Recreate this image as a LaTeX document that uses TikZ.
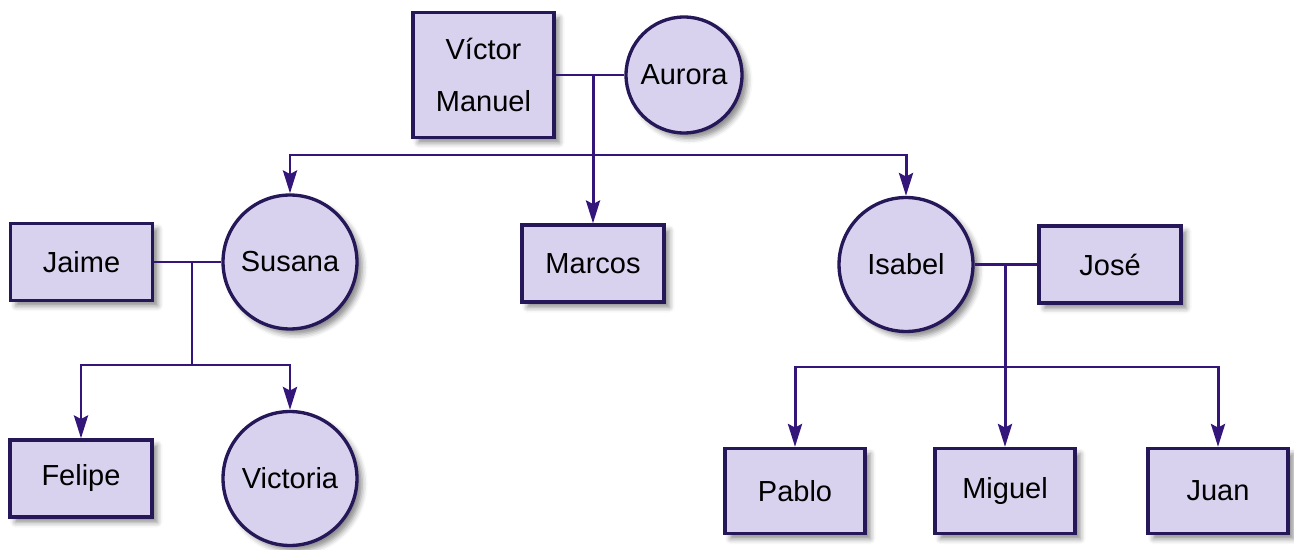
\documentclass[tikz,border=0pt]{standalone}
\usepackage{fontspec}
\setmainfont{Liberation Sans}
\usepackage{tikz}
\usetikzlibrary{arrows.meta,positioning,shadows.blur}

\definecolor{lila}{RGB}{216,210,238}
\definecolor{borde}{RGB}{38,24,88}
\definecolor{linea}{RGB}{52,22,122}

\begin{document}
\begin{tikzpicture}[x=0.02cm,y=-0.02cm,
		persona/.style={draw=borde,line width=1.9pt,fill=lila,minimum width=2.84cm,minimum height=1.54cm,
			font=\fontsize{16.5}{30}\selectfont,align=center,
			blur shadow={shadow xshift=3pt,shadow yshift=-3pt,shadow blur radius=3pt,shadow opacity=45}},
		mujer/.style={persona,circle,minimum size=2.68cm,inner sep=0pt},
		union/.style={draw=linea,line width=1.7pt},
		flecha/.style={union,-{Stealth[length=13pt,width=8pt,inset=2pt]}}]
		\useasboundingbox (0,0) rectangle (1294,550);
		% abuelos
		\node[persona,minimum width=2.82cm,minimum height=2.5cm] (victor) at (483.5,75) {Víctor\\Manuel};
		\node[mujer,minimum size=2.32cm] (aurora) at (684,75) {Aurora};
		% hijos
		\node[persona] (jaime) at (81.5,262) {Jaime};
		\node[mujer] (susana) at (290,262) {Susana};
		\node[persona] (marcos) at (593,263.5) {Marcos};
		\node[mujer] (isabel) at (906,264.5) {Isabel};
		\node[persona] (jose) at (1110,264.5) {José};
		% nietos
		\node[persona] (felipe) at (81,478.5) {Felipe};
		\node[mujer] (victoria) at (290,478.5) {Victoria};
		\node[persona,minimum width=2.8cm,minimum height=1.7cm] (pablo) at (795,491) {Pablo};
		\node[persona,minimum width=2.8cm,minimum height=1.7cm] (miguel) at (1005,491) {Miguel};
		\node[persona,minimum width=2.8cm,minimum height=1.7cm] (juan) at (1218,491) {Juan};
		% uniones
		\coordinate (m1) at (593,75);
		\coordinate (h1) at (593,155);
		\coordinate (m2) at (192,262);
		\coordinate (h2) at (192,365);
		\coordinate (m3) at (1005,264.5);
		\coordinate (h3) at (1005,367);
		\draw[union] (victor) -- (aurora);
		\draw[union] (jaime) -- (susana);
		\draw[union] (isabel) -- (jose);
		\draw[flecha] (m1) -- (marcos);
		\draw[flecha] (h1) -| (susana.north);
		\draw[flecha] (h1) -| (isabel.north);
		\draw[union] (m2) -- (h2);
		\draw[flecha] (h2) -| (felipe.north);
		\draw[flecha] (h2) -| (victoria.north);
		\draw[flecha] (m3) -- (miguel);
		\draw[flecha] (h3) -| (pablo.north);
		\draw[flecha] (h3) -| (juan.north);
\end{tikzpicture}
\end{document}
